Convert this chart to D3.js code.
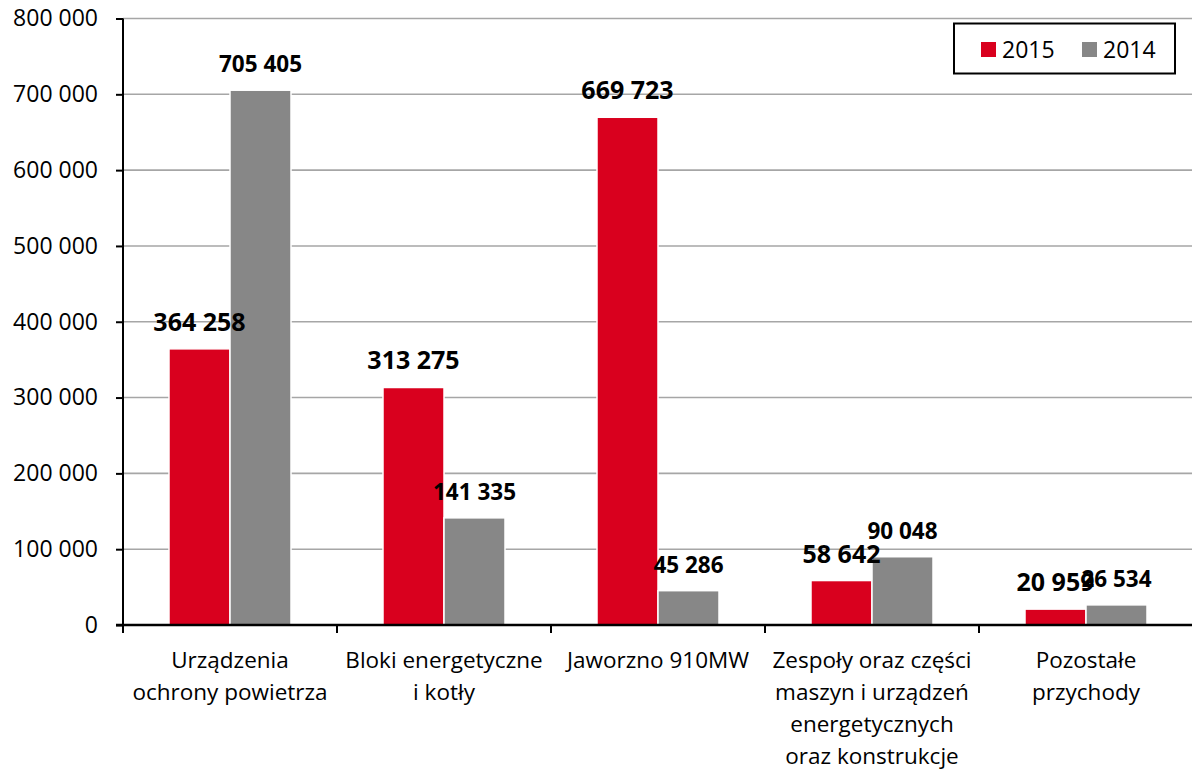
<!DOCTYPE html>
<html>
<head>
<meta charset="utf-8">
<script src="https://cdn.jsdelivr.net/npm/d3@7"></script>
<style>
  html, body { margin: 0; padding: 0; background: #fff; }
  svg { display: block; font-family: "Open Sans", Lato, sans-serif; }
</style>
</head>
<body>
<svg id="chart" width="1192" height="771"></svg>
<script>
// Revenue by product segment, 2015 vs 2014
const categories = [
  ["Urządzenia", "ochrony powietrza"],
  ["Bloki energetyczne", "i kotły"],
  ["Jaworzno 910MW"],
  ["Zespoły oraz części", "maszyn i urządzeń", "energetycznych", "oraz konstrukcje"],
  ["Pozostałe", "przychody"]
];
const seriesNames = ["2015", "2014"];
const values2015 = [364258, 313275, 669723, 58642, 20959];
const values2014 = [705405, 141335, 45286, 90048, 26534];
const yTicks = [0, 100000, 200000, 300000, 400000, 500000, 600000, 700000, 800000];

const colors = { "2015": "#d9001e", "2014": "#878787" };
const labelSize = { "2015": 25, "2014": 22.5 };
const fmt = v => d3.format(",")(v).replace(/,/g, " ");

const svg = d3.select("#chart");
const plotLeft = 123, plotRight = 1193, plotTop = 18.5, plotBottom = 625;

const x = d3.scaleBand().domain(d3.range(categories.length)).range([plotLeft, plotRight]).paddingInner(0).paddingOuter(0);
const x1 = d3.scaleBand().domain(seriesNames).range([0, x.bandwidth()]).paddingInner(0).paddingOuter(0.754);
const y = d3.scaleLinear().domain([0, 800000]).range([plotBottom, plotTop]);

// horizontal gridlines
svg.append("g").selectAll("line").data(yTicks.filter(t => t > 0)).join("line")
  .attr("x1", plotLeft).attr("x2", plotRight)
  .attr("y1", d => y(d)).attr("y2", d => y(d))
  .attr("stroke", "#a6a6a6").attr("stroke-width", 1.6);

const rows = categories.map((c, i) => ({ i, vals: [
  { s: "2015", v: values2015[i] }, { s: "2014", v: values2014[i] }
]}));

// bars
const groups = svg.append("g").selectAll("g").data(rows).join("g")
  .attr("transform", d => `translate(${x(d.i)},0)`);
groups.selectAll("rect").data(d => d.vals).join("rect")
  .attr("x", d => x1(d.s))
  .attr("width", x1.bandwidth())
  .attr("y", d => y(d.v))
  .attr("height", d => y(0) - y(d.v))
  .attr("fill", d => colors[d.s])
  .attr("stroke", "#fff").attr("stroke-width", 1.5);

// value labels
groups.selectAll("text").data(d => d.vals).join("text")
  .attr("x", d => x1(d.s) + x1.bandwidth() / 2)
  .attr("y", d => y(d.v) - 18)
  .attr("text-anchor", "middle")
  .attr("font-weight", "bold")
  .attr("font-size", d => labelSize[d.s])
  .attr("fill", "#000")
  .text(d => fmt(d.v));

// y axis
const yAxis = svg.append("g").attr("transform", `translate(${plotLeft},0)`)
  .call(d3.axisLeft(y).tickValues(yTicks).tickFormat(fmt).tickSize(7).tickPadding(18));
yAxis.select(".domain").attr("stroke", "#000").attr("stroke-width", 2).attr("d", `M0,${plotTop}V${plotBottom}`);
yAxis.selectAll(".tick line").attr("stroke", "#000").attr("stroke-width", 2);
yAxis.selectAll(".tick text").attr("font-size", 23).attr("fill", "#000")
  .attr("font-family", "'Open Sans', Lato, sans-serif");

// x axis
const xAxis = svg.append("g").attr("transform", `translate(0,${plotBottom})`);
xAxis.append("line").attr("x1", plotLeft - 7).attr("x2", plotRight).attr("stroke", "#000").attr("stroke-width", 2.5);
xAxis.selectAll("line.tk").data(d3.range(categories.length + 1)).join("line")
  .attr("class", "tk")
  .attr("x1", d => plotLeft + d * x.bandwidth()).attr("x2", d => plotLeft + d * x.bandwidth())
  .attr("y1", 0).attr("y2", 8)
  .attr("stroke", "#000").attr("stroke-width", 2);
const catText = xAxis.selectAll("text").data(rows).join("text")
  .attr("text-anchor", "middle")
  .attr("font-size", 22.5)
  .attr("fill", "#000");
catText.selectAll("tspan").data(d => categories[d.i].map(line => ({ line, i: d.i }))).join("tspan")
  .attr("x", d => x(d.i) + x.bandwidth() / 2)
  .attr("y", (d, k) => 43 + k * 32)
  .text(d => d.line);

// legend
const lg = svg.append("g");
lg.append("rect").attr("x", 954).attr("y", 23.5).attr("width", 221).attr("height", 50)
  .attr("fill", "#fff").attr("stroke", "#000").attr("stroke-width", 2);
const items = lg.selectAll("g").data(seriesNames).join("g")
  .attr("transform", (d, i) => `translate(${981 + i * 101},42)`);
items.append("rect").attr("width", 15).attr("height", 15).attr("fill", d => colors[d]);
items.append("text").attr("x", 21).attr("y", 15.5).attr("font-size", 23).attr("fill", "#000").text(d => d);
</script>
</body>
</html>
